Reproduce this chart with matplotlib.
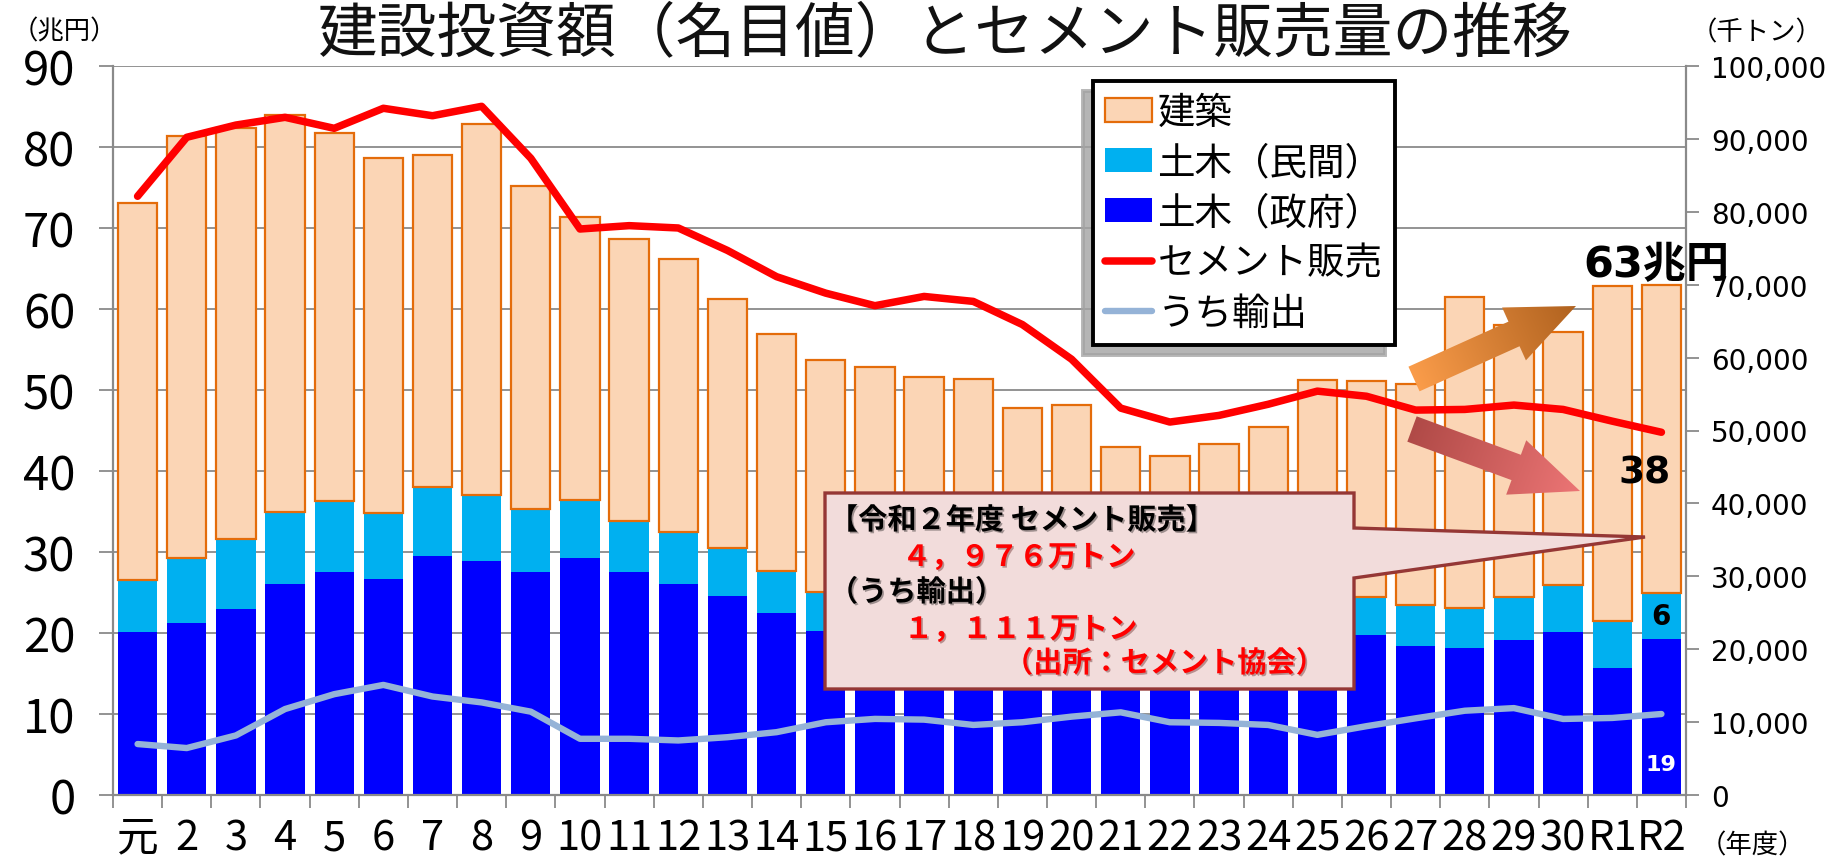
import matplotlib
matplotlib.use('Agg')
import matplotlib.pyplot as plt
import numpy as np
from matplotlib.patches import Polygon, FancyArrow
from matplotlib.colors import LinearSegmentedColormap
from matplotlib.ticker import FuncFormatter
import matplotlib.patheffects as pe

plt.rcParams['font.family'] = ['Noto Sans CJK JP', 'DejaVu Sans']

# ---------------- data ----------------
years = ['元', '2', '3', '4', '5', '6', '7', '8', '9', '10', '11', '12', '13', '14', '15',
         '16', '17', '18', '19', '20', '21', '22', '23', '24', '25', '26', '27', '28', '29',
         '30', 'R1', 'R2']
# 兆円
gov_civil = [20.1, 21.2, 23.0, 26.0, 27.5, 26.7, 29.5, 28.9, 27.5, 29.2, 27.5, 26.0, 24.6, 22.5, 20.2,
             19.0, 17.8, 17.0, 16.0, 15.8, 17.2, 16.2, 16.3, 17.0, 19.7, 19.8, 18.4, 18.1, 19.1,
             20.1, 15.7, 19.2]
priv_civil = [6.5, 8.0, 8.6, 9.0, 8.8, 8.1, 8.5, 8.1, 7.8, 7.2, 6.3, 6.5, 5.9, 5.1, 4.9,
              5.0, 5.2, 5.4, 5.3, 5.2, 4.8, 4.6, 4.7, 4.8, 5.1, 4.7, 5.0, 5.0, 5.4,
              5.8, 5.8, 5.8]
building = [46.5, 52.2, 50.7, 49.0, 45.4, 43.9, 41.0, 45.8, 39.9, 35.0, 34.8, 33.7, 30.7, 29.3, 28.6,
            28.9, 28.6, 29.0, 26.5, 27.2, 21.0, 21.1, 22.3, 23.6, 26.4, 26.6, 27.4, 38.4, 33.5,
            31.3, 41.4, 38.0]
# 千トン
cement_sales = [82130, 90220, 91900, 92960, 91450, 94200, 93180, 94470, 87340, 77640, 78100, 77780,
                74700, 71100, 68840, 67120, 68390, 67710, 64530, 59780, 53070, 51160, 52070, 53600,
                55400, 54700, 52800, 52890, 53490, 52890, 51280, 49760]
cement_export = [6990, 6440, 8170, 11790, 13830, 15100, 13510, 12700, 11430, 7710, 7710, 7480,
                 7930, 8620, 9980, 10440, 10340, 9610, 9980, 10750, 11340, 9980, 9890, 9610,
                 8250, 9440, 10520, 11560, 11920, 10430, 10570, 11110]

left_ticks = list(range(0, 91, 10))
right_ticks = list(range(0, 100001, 10000))

# ---------------- figure ----------------
W, H = 1835, 862
fig = plt.figure(figsize=(W / 100, H / 100), dpi=100)
fig.patch.set_facecolor('white')

def fx(px):
    return px / W

def fy(py):
    return 1 - py / H

L, R, T, B = 113, 1686, 67, 796
ax = fig.add_axes([fx(L), fy(B), fx(R - L), (B - T) / H])
x = np.arange(len(years))
gov = np.array(gov_civil)
priv = np.array(priv_civil)
bld = np.array(building)

grid_c = '#8a8a8a'
b1 = ax.bar(x, gov, width=0.8, color='#0000FF', edgecolor='none', zorder=2)
b2 = ax.bar(x, priv, bottom=gov, width=0.8, color='#00B0F0', edgecolor='none', zorder=2)
b3 = ax.bar(x, bld, bottom=gov + priv, width=0.8, facecolor='#FBD5B5', edgecolor='#E46C0A',
            linewidth=1.6, zorder=2)

ax.set_xlim(-0.5, len(years) - 0.5)
ax.set_ylim(0, 90)
ax.set_yticks(left_ticks)
ax.yaxis.grid(True, color=grid_c, linewidth=1.3)
ax.set_axisbelow(True)
ax.tick_params(axis='y', direction='out', length=10, width=1.3, color=grid_c,
               labelsize=34, pad=17, labelcolor='black')
ax.set_xticks(np.arange(-0.5, len(years), 1))
ax.set_xticklabels([])
ax.set_xticks(x, minor=True)
ax.set_xticklabels(years, minor=True)
ax.tick_params(axis='x', which='major', direction='out', length=9, width=1.3, color=grid_c)
ax.tick_params(axis='x', which='minor', length=0, labelsize=30, pad=16, labelcolor='black')
for s in ['top', 'right']:
    ax.spines[s].set_visible(False)
for s in ['left', 'bottom']:
    ax.spines[s].set_color(grid_c)
    ax.spines[s].set_linewidth(1.6)

ax2 = ax.twinx()
l1, = ax2.plot(x, cement_sales, color='#FF0000', linewidth=5.4, solid_capstyle='round',
               solid_joinstyle='round', zorder=4)
l2, = ax2.plot(x, cement_export, color='#95B3D7', linewidth=4.6, solid_capstyle='round',
               solid_joinstyle='round', zorder=4)
ax2.set_ylim(0, 100000)
ax2.set_yticks(right_ticks)
ax2.yaxis.set_major_formatter(FuncFormatter(lambda v, p: f'{int(v):,}'))
ax2.tick_params(axis='y', direction='out', length=9, width=1.3, color=grid_c, labelsize=20,
                pad=9, labelcolor='black')
for lab in ax2.get_yticklabels():
    lab.set_family('DejaVu Sans')
for s in ['top', 'left', 'bottom']:
    ax2.spines[s].set_visible(False)
ax2.spines['right'].set_color(grid_c)
ax2.spines['right'].set_linewidth(1.6)

# data labels for R2
bold_fam = ['DejaVu Sans', 'Noto Sans CJK JP']
last = len(years) - 1
ax2.text(last - 0.1, 65.6, '63兆円', transform=ax.transData, ha='center', va='center',
         fontsize=31, fontweight='bold', family=bold_fam, color='black', zorder=6)
ax2.text(last - 0.35, 39.8, f'{bld[last]:.0f}', transform=ax.transData,
         ha='center', va='center', fontsize=27, fontweight='bold', family=bold_fam, zorder=6)
ax2.text(last, gov[last] + priv[last] / 2, f'{priv[last]:.0f}', transform=ax.transData,
         ha='center', va='center', fontsize=20, fontweight='bold', family=bold_fam, zorder=6)
ax2.text(last, 3.8, f'{gov[last]:.0f}', transform=ax.transData, ha='center', va='center',
         fontsize=16, fontweight='bold', family=bold_fam, color='white', zorder=6)

# ---------------- texts ----------------
fig.text(fx(945), fy(35), '建設投資額（名目値）とセメント販売量の推移', ha='center', va='center',
         fontsize=43, color='#111111')
fig.text(fx(64), fy(32), '（兆円）', ha='center', va='center', fontsize=19)
fig.text(fx(1757), fy(33), '（千トン）', ha='center', va='center', fontsize=19)
fig.text(fx(1752), fy(846), '（年度）', ha='center', va='center', fontsize=19)

# ---------------- overlay (callout + arrows) ----------------
ov = fig.add_axes([0, 0, 1, 1], zorder=3)
ov.patch.set_alpha(0)
ov.axis('off')

poly = Polygon([(825, 494), (1354, 494), (1354, 529), (1645, 538), (1354, 579), (1354, 690),
                (825, 690)], closed=True, facecolor='#F2DCDB', edgecolor='#953735',
               linewidth=2.4, joinstyle='miter')
ov.add_patch(poly)

shadow = [pe.SimplePatchShadow(offset=(1.2, -1.2), alpha=0.35), pe.Normal()]
tkw = dict(ha='left', va='center', fontsize=21, fontweight='bold', path_effects=shadow)
ov.text(829, 521, '【令和２年度 セメント販売】', color='black', **tkw)
ov.text(902, 558, '４，９７６万トン', color='#FF0000', **tkw)
ov.text(829, 593, '（うち輸出）', color='black', **tkw)
ov.text(904, 630, '１，１１１万トン', color='#FF0000', **tkw)
ov.text(1004, 664, '（出所：セメント協会）', color='#FF0000', **tkw)


def grad_arrow(x0, y0, x1, y1, c0, c1, width, hw, hl):
    arr = FancyArrow(x0, y0, x1 - x0, y1 - y0, width=width, head_width=hw, head_length=hl,
                     length_includes_head=True, facecolor='none', edgecolor='none')
    ov.add_patch(arr)
    xmin, xmax = min(x0, x1) - hw, max(x0, x1) + hw
    ymin, ymax = min(y0, y1) - hw, max(y0, y1) + hw
    xs = np.linspace(xmin, xmax, 300)
    ys = np.linspace(ymin, ymax, 300)
    X, Y = np.meshgrid(xs, ys)
    dx, dy = x1 - x0, y1 - y0
    t = ((X - x0) * dx + (Y - y0) * dy) / (dx * dx + dy * dy)
    cmap = LinearSegmentedColormap.from_list('g', [c0, c1])
    im = ov.imshow(t, cmap=cmap, vmin=0, vmax=1, extent=(xmin, xmax, ymax, ymin),
                   origin='upper', interpolation='bilinear', aspect='auto')
    im.set_clip_path(arr)


grad_arrow(1414, 380, 1576, 307, '#FA9C4A', '#B0621F', 27, 58, 68)
grad_arrow(1412, 430, 1580, 492, '#B04A47', '#EC7575', 27, 58, 68)

ov.set_xlim(0, W)
ov.set_ylim(H, 0)

# ---------------- legend ----------------
leg = fig.legend([b3, b2, b1, l1, l2],
                 ['建築', '土木（民間）', '土木（政府）', 'セメント販売', 'うち輸出'],
                 loc='upper left', bbox_to_anchor=(fx(1093), fy(82)),
                 bbox_transform=fig.transFigure, borderaxespad=0, fontsize=27,
                 frameon=True, fancybox=False, framealpha=1, edgecolor='black',
                 handlelength=1.25, handleheight=0.6, handletextpad=0.15, labelspacing=0.3,
                 borderpad=0.32,
                 shadow={'ox': -7, 'oy': -7, 'color': '#a3a3a3', 'alpha': 0.8})
leg.get_frame().set_linewidth(2.8)
leg.set_zorder(10)

fig.savefig('out.png', dpi=100, facecolor='white')
